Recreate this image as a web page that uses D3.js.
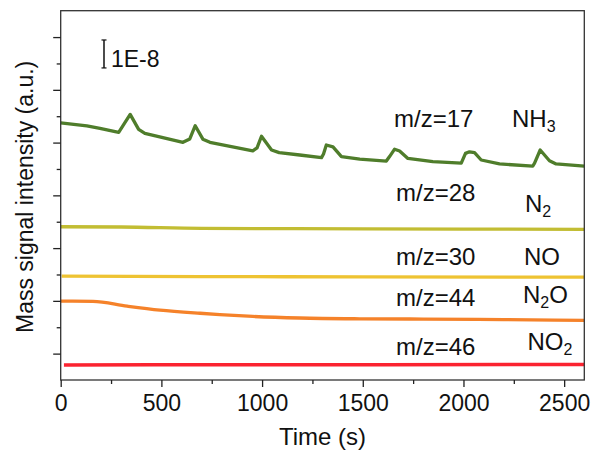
<!DOCTYPE html>
<html>
<head>
<meta charset="utf-8">
<script src="https://cdn.jsdelivr.net/npm/d3@7"></script>
<style>
  html, body { margin: 0; padding: 0; background: #fff; }
  text { font-family: "Liberation Sans", Arial, Helvetica, sans-serif; fill: #111; }
</style>
</head>
<body>
<svg id="chart" width="593" height="454"></svg>
<script>
// ---- data (time in s, signal in units of 1E-8, offset-stacked) ----
const xTicks = [0, 500, 1000, 1500, 2000, 2500];
const seriesNames = ["NH3", "N2", "NO", "N2O", "NO2"];
const massLabels = ["m/z=17", "m/z=28", "m/z=30", "m/z=44", "m/z=46"];

const nh3 = [[0,9.75],[130,9.63],[195,9.54],[288,9.39],[345,10.07],[387,9.50],[418,9.35],
  [607,9.01],[641,9.14],[668,9.64],[706,9.13],[741,9.01],[954,8.69],[975,8.80],[997,9.24],
  [1047,8.72],[1085,8.62],[1187,8.53],[1295,8.43],[1305,8.57],[1319,8.91],[1352,8.84],
  [1394,8.47],[1485,8.37],[1617,8.30],[1633,8.47],[1658,8.75],[1683,8.68],[1724,8.40],
  [1848,8.28],[1989,8.22],[2010,8.59],[2030,8.65],[2055,8.62],[2088,8.34],[2179,8.19],
  [2344,8.11],[2353,8.22],[2381,8.72],[2427,8.31],[2460,8.19],[2600,8.11]];
const n2  = [[0,5.81],[300,5.80],[700,5.75],[1500,5.73],[2000,5.72],[2600,5.71]];
const no  = [[5,3.94],[700,3.92],[1500,3.91],[2600,3.90]];
const n2o = [[0,2.99],[160,2.98],[330,2.80],[493,2.65],[692,2.53],[790,2.48],[954,2.41],
  [1187,2.35],[1485,2.32],[1800,2.31],[2200,2.29],[2600,2.26]];
const no2 = [[16,0.57],[800,0.58],[1600,0.58],[2600,0.59]];

const colors = ["#4f7d2b", "#c2bd33", "#eec332", "#f5822a", "#fb2330"];

// ---- layout ----
const svg = d3.select("#chart");
const x = d3.scaleLinear().domain([0, 2600]).range([60.7, 584.3]);
const y = d3.scaleLinear().domain([0, 14]).range([380, 10.7]);

// lines
const line = d3.line().x(d => x(d[0])).y(d => y(d[1])).curve(d3.curveMonotoneX);
const allSeries = [nh3, n2, no, n2o, no2];
allSeries.forEach((s, i) => {
  svg.append("path").datum(s)
    .attr("d", i === 0 ? d3.line().x(d => x(d[0])).y(d => y(d[1]))(s) : line(s))
    .attr("fill", "none").attr("stroke", colors[i])
    .attr("stroke-width", i === 4 ? 3.6 : 3.3).attr("stroke-linejoin", "round").attr("stroke-linecap", "butt");
});

// frame
svg.append("rect").attr("x", x(0)).attr("y", y(14))
  .attr("width", x(2600) - x(0)).attr("height", y(0) - y(14))
  .attr("fill", "none").attr("stroke", "#333").attr("stroke-width", 1.3);

// x axis
const xAxisG = svg.append("g").attr("transform", `translate(0,${y(0)})`);
xAxisG.call(d3.axisBottom(x).tickValues(d3.range(250, 2600, 500)).tickSize(4).tickFormat(""));
xAxisG.call(g => g.append("g").call(d3.axisBottom(x).tickValues(xTicks).tickSize(7).tickPadding(8).tickFormat(d3.format("d"))));
xAxisG.selectAll(".domain").remove();
xAxisG.selectAll("line").attr("stroke", "#222").attr("stroke-width", 1.3);
xAxisG.selectAll("text").attr("font-size", 23).attr("fill", "#111")
  .style("font-family", '"Liberation Sans", Arial, sans-serif');

// y axis (no labels)
const yAxisG = svg.append("g").attr("transform", `translate(${x(0)},0)`);
yAxisG.call(d3.axisLeft(y).tickValues(d3.range(2, 14, 2)).tickSize(4).tickFormat(""));
yAxisG.call(g => g.append("g").call(d3.axisLeft(y).tickValues(d3.range(1, 14, 2)).tickSize(7.5).tickFormat("")));
yAxisG.selectAll(".domain").remove();
yAxisG.selectAll("line").attr("stroke", "#222").attr("stroke-width", 1.3);

// axis titles
svg.append("text").attr("x", (x(0) + x(2600)) / 2).attr("y", 445)
  .attr("text-anchor", "middle").attr("font-size", 24).text("Time (s)");
svg.append("text").attr("transform", `translate(33,${(y(0) + y(14)) / 2 + 1.5}) rotate(-90)`)
  .attr("text-anchor", "middle").attr("font-size", 23).text("Mass signal intensity (a.u.)");

// scale bar 1E-8
const sbX = x(215), sbTop = y(12.89), sbBot = y(11.83);
svg.append("line").attr("x1", sbX).attr("x2", sbX).attr("y1", sbTop).attr("y2", sbBot)
  .attr("stroke", "#111").attr("stroke-width", 1.5);
[sbTop, sbBot].forEach(v => svg.append("line").attr("x1", sbX - 2.5).attr("x2", sbX + 2.5)
  .attr("y1", v).attr("y2", v).attr("stroke", "#111").attr("stroke-width", 1.2));
svg.append("text").attr("x", sbX + 7).attr("y", 66.5).attr("font-size", 23).text("1E-8");

// labels
const massPos = [[394, 127], [396, 200.7], [396, 265], [396, 306], [396, 355]];
const speciesPos = [[512, 127], [525, 212.3], [524, 265], [523, 302.7], [527.5, 350]];
const speciesParts = [[["NH", 0], ["3", 1]], [["N", 0], ["2", 1]], [["NO", 0]],
  [["N", 0], ["2", 1], ["O", 2]], [["NO", 0], ["2", 1]]];
massLabels.forEach((m, i) => {
  svg.append("text").attr("x", massPos[i][0]).attr("y", massPos[i][1]).attr("font-size", 24).text(m);
  const t = svg.append("text").attr("x", speciesPos[i][0]).attr("y", speciesPos[i][1]).attr("font-size", 24);
  speciesParts[i].forEach(([s, k]) => {
    const ts = t.append("tspan").text(s);
    if (k === 1) ts.attr("font-size", 16).attr("dy", 5);
    if (k === 2) ts.attr("dy", -5);
  });
});
</script>
</body>
</html>
